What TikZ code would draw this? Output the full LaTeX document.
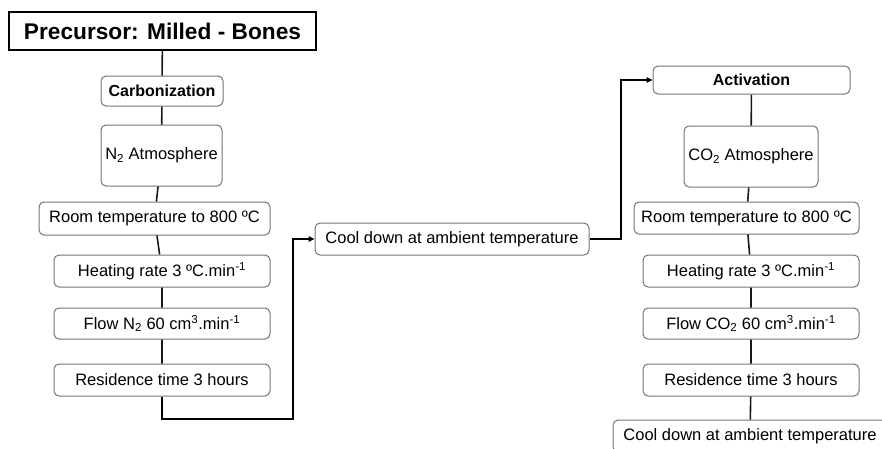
\documentclass[tikz,border=0pt]{standalone}
\usepackage{fontspec}
\setmainfont{Liberation Sans}
\usepackage{tikz}
\usetikzlibrary{arrows.meta}

\begin{document}
\begin{tikzpicture}[x=1pt, y=-1pt,
        stepbox/.style={draw=black!55, line width=1pt, rounded corners=5pt, inner sep=0pt, text=black,
                font=\fontsize{16.5}{19}\selectfont, minimum width=216pt, minimum height=32pt},
        link/.style={draw=black!90, line width=1.6pt},
        elbow/.style={draw=black, line width=1.9pt, -{Triangle[length=6pt, width=5.5pt]}}]
        \useasboundingbox (0, 0) rectangle (882, 448);
        \clip (0, 0) rectangle (882, 448);
        % carbonization column
        \node[draw, line width=1.9pt, inner sep=0pt, minimum width=307pt, minimum height=38pt,
                font=\fontsize{22.7}{26}\selectfont\bfseries] (prec) at (162.5, 31) {Precursor: Milled - Bones};
        \node[stepbox, minimum width=122pt, minimum height=30pt, font=\fontsize{16}{19}\selectfont\bfseries] (carb) at (162, 91) {Carbonization};
        \node[stepbox, minimum width=121pt, minimum height=61pt] (atm1) at (161.5, 155.5) {N\textsubscript{2} Atmosphere};
        \node[stepbox, minimum width=231pt, minimum height=33pt] (room1) at (154.5, 218.5) {Room temperature to 800 ºC};
        \node[stepbox] (heat1) at (162, 271) {Heating rate 3 ºC.min\textsuperscript{-1}};
        \node[stepbox, minimum height=31pt] (flow1) at (162, 323.5) {Flow N\textsubscript{2} 60 cm\textsuperscript{3}.min\textsuperscript{-1}};
        \node[stepbox] (res1) at (162, 380) {Residence time 3 hours};
        % cooling between the stages
        \node[stepbox, minimum width=274pt] (cool1) at (452, 239) {Cool down at ambient temperature};
        % activation column
        \node[stepbox, minimum width=197pt, minimum height=28pt, font=\fontsize{16}{19}\selectfont\bfseries] (act) at (751.5, 80) {Activation};
        \node[stepbox, minimum width=134pt, minimum height=61pt] (atm2) at (751, 156.5) {CO\textsubscript{2} Atmosphere};
        \node[stepbox, minimum width=225pt] (room2) at (746.5, 218) {Room temperature to 800 ºC};
        \node[stepbox] (heat2) at (751, 271) {Heating rate 3 ºC.min\textsuperscript{-1}};
        \node[stepbox, minimum height=31pt] (flow2) at (751, 323.5) {Flow CO\textsubscript{2} 60 cm\textsuperscript{3}.min\textsuperscript{-1}};
        \node[stepbox] (res2) at (751, 380) {Residence time 3 hours};
        \node[stepbox, minimum width=274pt] (cool2) at (750, 436) {Cool down at ambient temperature};

        \coordinate (bend1) at (293, 419);
        \coordinate (bend2) at (621, 239);

        \draw[link] (prec) -- (carb) -- (atm1) -- (room1) -- (heat1) -- (flow1) -- (res1);
        \draw[link] (act) -- (atm2) -- (room2) -- (heat2) -- (flow2) -- (res2) -- (cool2);
        \draw[elbow] (res1) |- (bend1) |- (cool1);
        \draw[elbow] (cool1) -- (bend2) |- (act);
\end{tikzpicture}
\end{document}
